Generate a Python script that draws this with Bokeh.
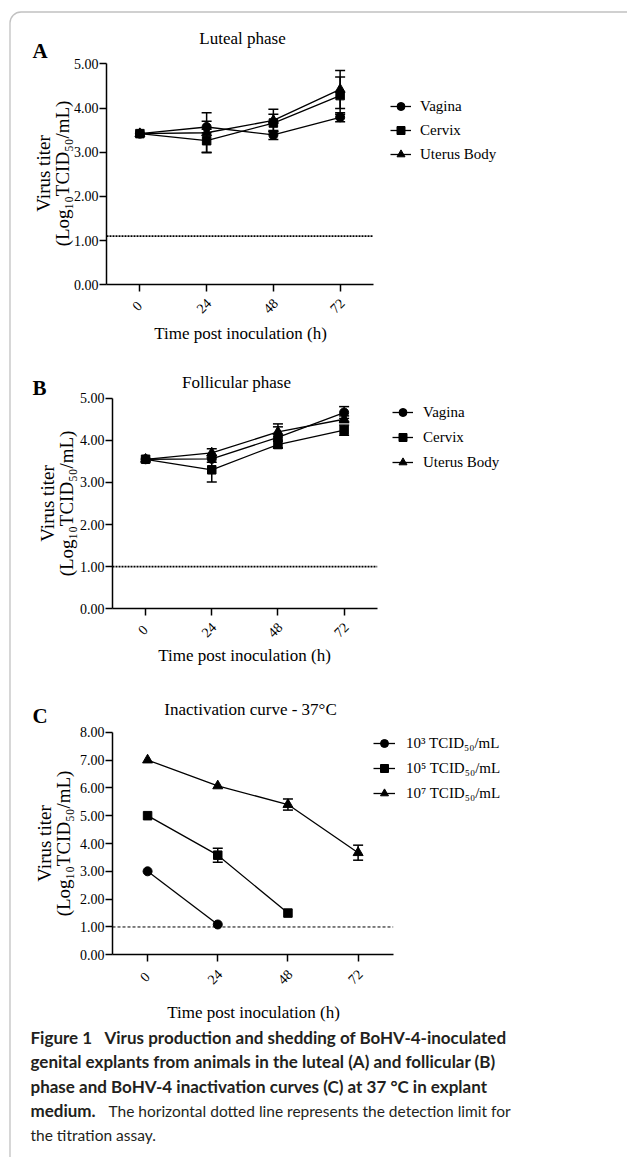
from math import pi

from bokeh.embed import file_html
from bokeh.models import (BoxAnnotation, ColumnDataSource, FixedTicker, Label, Legend,
                          LegendItem, LinearAxis, NumeralTickFormatter, Range1d, TeeHead,
                          Whisker)
from bokeh.plotting import figure
from bokeh.resources import INLINE

# ---------------- data ----------------
hours = [0, 24, 48, 72]
hour_labels = ["0", "24", "48", "72"]
y_ticks_ab = [0, 1, 2, 3, 4, 5]
y_ticks_c = [0, 1, 2, 3, 4, 5, 6, 7, 8]

tissue_names = ["Vagina", "Cervix", "Uterus Body"]

# Panel A - luteal phase (log10 TCID50/mL, mean and SEM)
lut_vagina = [3.42, 3.57, 3.39, 3.79]
lut_vagina_err = [0.0, 0.13, 0.10, 0.10]
lut_cervix = [3.42, 3.26, 3.66, 4.28]
lut_cervix_err = [0.0, 0.26, 0.20, 0.42]
lut_uterus = [3.42, 3.44, 3.72, 4.42]
lut_uterus_err = [0.0, 0.45, 0.25, 0.43]
lut_limit = 1.1

# Panel B - follicular phase
fol_vagina = [3.55, 3.56, 4.07, 4.66]
fol_vagina_err = [0.0, 0.08, 0.25, 0.14]
fol_cervix = [3.55, 3.30, 3.90, 4.24]
fol_cervix_err = [0.0, 0.29, 0.08, 0.12]
fol_uterus = [3.55, 3.70, 4.20, 4.50]
fol_uterus_err = [0.0, 0.10, 0.19, 0.08]
fol_limit = 1.0

# Panel C - inactivation curve at 37 C
dose_names = ["10³ TCID₅₀/mL", "10⁵ TCID₅₀/mL", "10⁷ TCID₅₀/mL"]
inact_hours_1e3 = [0, 24]
inact_1e3 = [3.0, 1.09]
inact_1e3_err = [0.0, 0.0]
inact_hours_1e5 = [0, 24, 48]
inact_1e5 = [5.0, 3.58, 1.5]
inact_1e5_err = [0.0, 0.25, 0.0]
inact_hours_1e7 = [0, 24, 48, 72]
inact_1e7 = [7.0, 6.07, 5.4, 3.67]
inact_1e7_err = [0.0, 0.0, 0.2, 0.27]
inact_limit = 1.0

# ---------------- page geometry ----------------
W, H = 627, 1157          # canvas size (the page template has no body margin)
X_LO, X_HI = -12, 84      # time axis range (h)

SERIF = "Liberation Serif"
CAP_FONT = "Lato"
TICK_SIZE = "14px"
MARKERS = ["circle", "square", "triangle"]
MSIZE = {"circle": 9, "square": 8.5, "triangle": 10}

# default ranges = page pixels (y measured upward from the page bottom)
p = figure(width=W, height=H, x_range=Range1d(0, W), y_range=Range1d(0, H),
           output_backend="svg", toolbar_location=None, min_border=0,
           x_axis_location=None, y_axis_location=None,
           background_fill_color="white", border_fill_color="white",
           outline_line_color=None)
p.grid.visible = False

# panel frame border (rounded top-left corner)
p.add_layout(BoxAnnotation(left=9.5, right=W + 50, top=H - 11.5, bottom=-50,
                           fill_color=None, line_color="#333333", line_width=1.3,
                           border_radius=11))


def text(x, y, s, size, style="normal", align="left", angle=0.0, font=SERIF,
         color="black"):
    """x, y = page pixels (from the top-left corner) of the text's vertical middle."""
    p.add_layout(Label(x=x, y=H - y, text=s, text_font=font, text_font_size=size,
                       text_font_style=style, text_align=align, angle=angle,
                       text_baseline="middle", text_color=color))


def panel(name, L, R, T, B, y_max, y_ticks, lab_drop):
    """Register ranges so that the panel's plotting area sits at page box L,R,T,B."""
    kx = (R - L) / (X_HI - X_LO)
    xs = X_LO - L / kx
    p.extra_x_ranges[name] = Range1d(xs, xs + W / kx)
    ky = (B - T) / y_max
    ys = 0 - (H - B) / ky
    p.extra_y_ranges[name] = Range1d(ys, ys + H / ky)

    common = dict(x_range_name=name, y_range_name=name,
                  axis_line_width=1.5, axis_line_color="black",
                  major_tick_line_width=1.5, major_tick_line_color="black",
                  major_tick_out=7, major_tick_in=0, minor_tick_out=0, minor_tick_in=0,
                  major_label_text_font=SERIF, major_label_text_font_size=TICK_SIZE,
                  major_label_text_color="black")
    xa = LinearAxis(fixed_location=0, bounds=(X_LO, X_HI),
                    ticker=FixedTicker(ticks=hours),
                    major_label_overrides={h: "" for h in hours}, **common)
    p.add_layout(xa, "below")
    ya = LinearAxis(fixed_location=X_LO, bounds=(0, y_max),
                    ticker=FixedTicker(ticks=y_ticks),
                    formatter=NumeralTickFormatter(format="0.00"),
                    major_label_standoff=1, **common)
    p.add_layout(ya, "left")
    # slanted hour labels, centred under their ticks
    for h, lab in zip(hours, hour_labels):
        p.add_layout(Label(x=h - 3 / kx, y=-lab_drop / ky, x_range_name=name,
                           y_range_name=name, text=lab, angle=pi / 4,
                           text_align="center", text_baseline="middle",
                           text_font=SERIF, text_font_size=TICK_SIZE, text_color="black"))


def series(name, xs_list, ys_list, errs_list, labels, limit, dash, dash_w,
           leg_loc, spacing, glyph_w, standoff):
    rn = dict(x_range_name=name, y_range_name=name)
    p.segment(x0=[X_LO], x1=[X_HI], y0=[limit], y1=[limit], line_dash=dash,
              line_width=dash_w, line_color="black", **rn)
    items = []
    for xs, ys, errs, lab, mk in zip(xs_list, ys_list, errs_list, labels, MARKERS):
        idx = [i for i, e in enumerate(errs) if e > 0]
        if idx:
            src = ColumnDataSource(dict(
                base=[xs[i] for i in idx],
                upper=[ys[i] + errs[i] for i in idx],
                lower=[ys[i] - errs[i] for i in idx]))
            p.add_layout(Whisker(source=src, base="base", upper="upper", lower="lower",
                                 line_width=1.5, line_color="black",
                                 upper_head=TeeHead(size=10, line_width=1.5, line_color="black"),
                                 lower_head=TeeHead(size=10, line_width=1.5, line_color="black"),
                                 **rn))
        lr = p.line(xs, ys, line_width=1.3, line_color="black", **rn)
        sr = p.scatter(xs, ys, marker=mk, size=MSIZE[mk], fill_color="black",
                       line_color="black", **rn)
        items.append(LegendItem(label=lab, renderers=[lr, sr]))
    p.add_layout(Legend(items=items, location=leg_loc, glyph_width=glyph_w, glyph_height=20,
                        label_height=20, spacing=spacing, padding=0, margin=0,
                        label_standoff=standoff, border_line_color=None,
                        background_fill_alpha=0, label_text_font=SERIF,
                        label_text_font_size="15px", label_text_color="black"))


def titles(letter, ly, title, tx, ty, vx1, vx2, vy, xlab_x, xlab_y):
    text(32, ly, letter, "21px", style="bold")
    text(tx, ty, title, "17px", align="center")
    text(vx1, vy, "Virus titer", "19px", align="center", angle=pi / 2)
    text(vx2, vy, "(Log₁₀TCID₅₀/mL)", "19px", align="center", angle=pi / 2)
    text(xlab_x, xlab_y, "Time post inoculation (h)", "17px", align="center")


# ---------------- panel A ----------------
panel("A", 106, 373, 63.3, 284.3, 5, y_ticks_ab, 21)
series("A", [hours] * 3, [lut_vagina, lut_cervix, lut_uterus],
       [lut_vagina_err, lut_cervix_err, lut_uterus_err], tissue_names,
       lut_limit, "2 1", 1.8, (390, H - 164), 4, 21, 9)
titles("A", 50, "Luteal phase", 242, 38, 43, 62, 173, 240, 333)

# ---------------- panel B ----------------
panel("B", 112, 376.7, 397.7, 608.3, 5, y_ticks_ab, 21)
series("B", [hours] * 3, [fol_vagina, fol_cervix, fol_uterus],
       [fol_vagina_err, fol_cervix_err, fol_uterus_err], tissue_names,
       fol_limit, "2 1", 1.8, (392, H - 472), 5, 21, 10)
titles("B", 387, "Follicular phase", 236, 382, 47, 66, 503, 244, 655)

# ---------------- panel C ----------------
panel("C", 112, 392.7, 731.7, 954.3, 8, y_ticks_c, 22)
series("C", [inact_hours_1e3, inact_hours_1e5, inact_hours_1e7],
       [inact_1e3, inact_1e5, inact_1e7],
       [inact_1e3_err, inact_1e5_err, inact_1e7_err], dose_names,
       inact_limit, "3 2", 1.0, (373, H - 803), 5, 22, 11)
titles("C", 715, "Inactivation curve - 37°C", 250, 709, 44, 63, 843, 253, 1012)

# ---------------- caption ----------------
CAP_COLOR = "#231f20"
cap_lines = [
    (30, 1037, "Figure 1", "bold", "17px"),
    (104, 1037, "Virus production and shedding of BoHV-4-inoculated", "bold", "17px"),
    (30, 1061, "genital explants from animals in the luteal (A) and follicular (B)", "bold", "17px"),
    (30, 1085.5, "phase and BoHV-4 inactivation curves (C) at 37 °C in explant", "bold", "17px"),
    (30, 1110, "medium.", "bold", "17px"),
    (108, 1110, "The horizontal dotted line represents the detection limit for", "normal", "15.5px"),
    (30, 1134, "the titration assay.", "normal", "15.5px"),
]
for x, yc, txt, style, size in cap_lines:
    text(x, yc, txt, size, style=style, font=CAP_FONT, color=CAP_COLOR)

open("out.html", "w").write(file_html(p, INLINE))
